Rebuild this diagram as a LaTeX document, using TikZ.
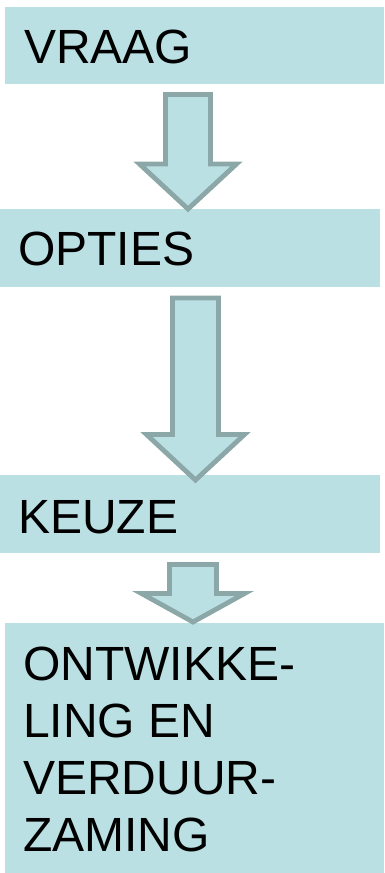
\documentclass[tikz,border=0pt]{standalone}
\usepackage{fontspec}
\setmainfont{Liberation Sans}
\definecolor{boxfill}{RGB}{186,224,227}
\definecolor{arrowline}{RGB}{139,167,168}
% hollow block arrow pointing down: centre x, top, shoulder, tip, shaft half width, head half width
\newcommand\flowarrow[6]{%
  \draw[blockarrow] (#1-#5,#2) -- (#1+#5,#2) -- (#1+#5,#3) -- (#1+#6,#3)
    -- (#1,#4) -- (#1-#6,#3) -- (#1-#5,#3) -- cycle;}
\begin{document}
\begin{tikzpicture}[x=1pt,y=-1pt,
  stepbox/.style={fill=boxfill, draw=none, inner sep=0pt, outer sep=0pt, anchor=north west},
  steptext/.style={anchor=base west, inner sep=0pt, font=\fontsize{48}{57}\selectfont, align=left},
  blockarrow/.style={fill=boxfill, draw=arrowline, line width=4.8pt, line join=miter}]
\useasboundingbox (0,0) rectangle (384,873);
% boxes
\node[stepbox, minimum width=379pt, minimum height=77pt] (vraag) at (5,7) {};
\node[stepbox, minimum width=380pt, minimum height=78pt] (opties) at (0,209) {};
\node[stepbox, minimum width=380pt, minimum height=78pt] (keuze) at (0,475) {};
\node[stepbox, minimum width=379pt, minimum height=250pt] (ontw) at (5,623) {};
% labels (multi-line label is anchored on its last baseline)
\node[steptext] (tvraag) at (24,63) {VRAAG};
\node[steptext] (topties) at (18,265) {OPTIES};
\node[steptext] (tkeuze) at (18,533) {KEUZE};
\node[steptext] (tontw) at (23,851) {ONTWIKKE-\\LING EN\\VERDUUR-\\ZAMING};
% arrows between the steps
\flowarrow{188}{94.5}{164}{209}{22.5}{48.5}
\flowarrow{195.5}{298}{434.5}{480}{23}{49}
\flowarrow{193}{564.5}{593.5}{622}{23.5}{51.5}
\end{tikzpicture}
\end{document}
